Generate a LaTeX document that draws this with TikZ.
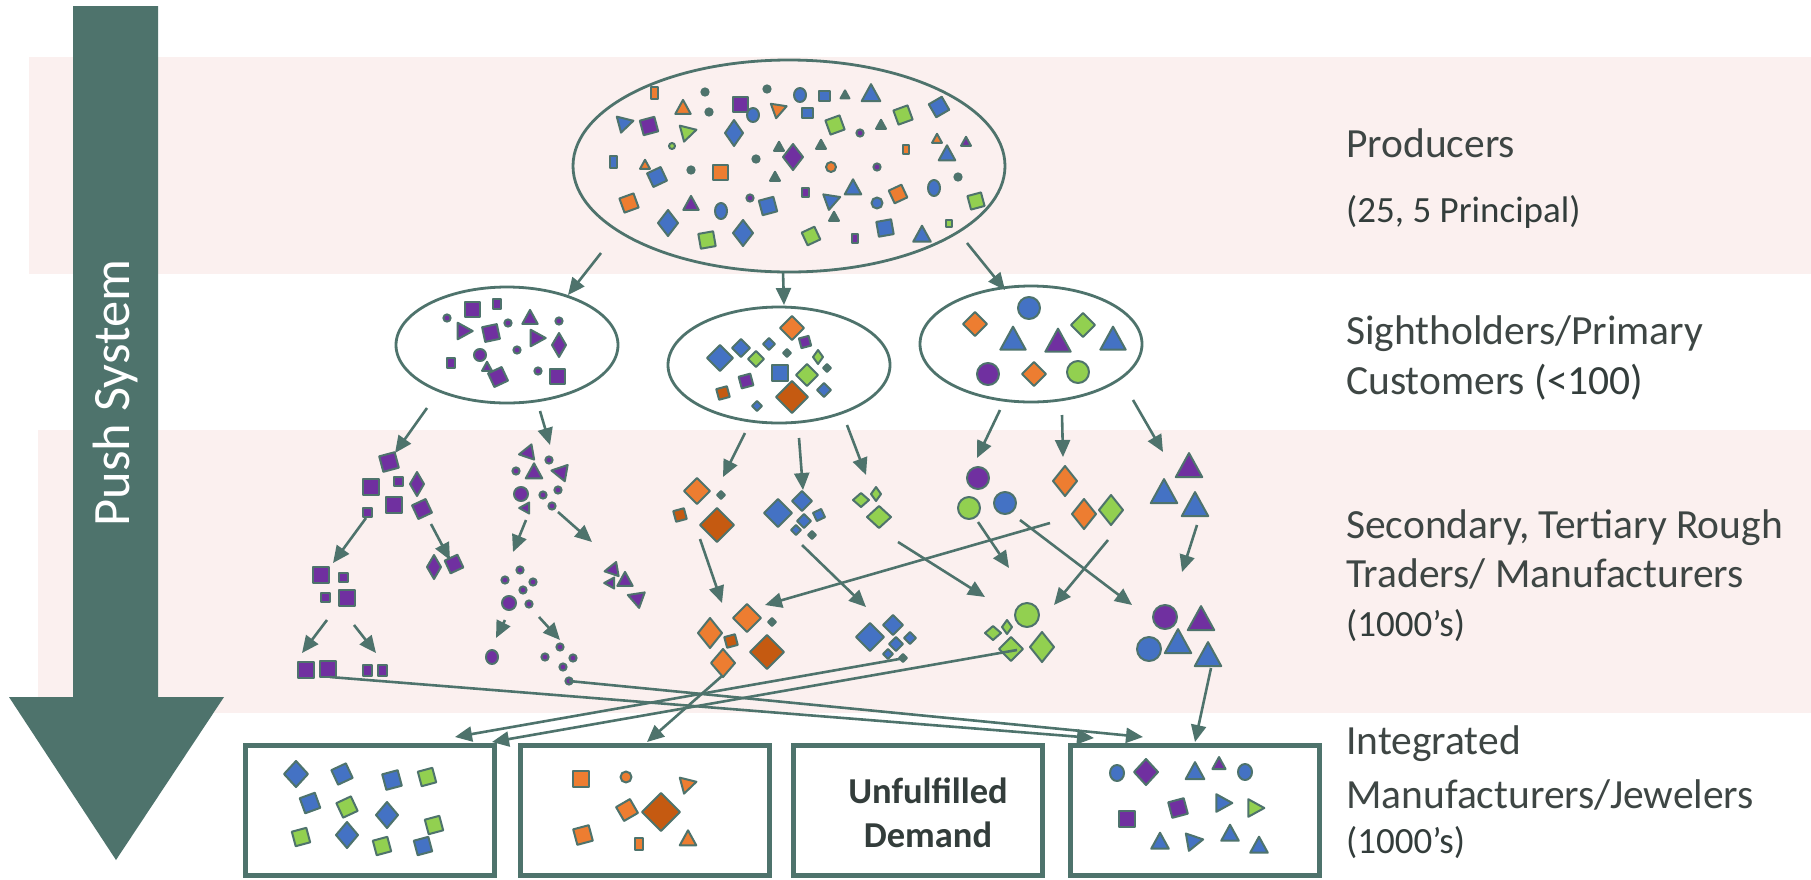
\documentclass[tikz,border=0pt]{standalone}
\usepackage{fontspec}
\setmainfont{Carlito}
\usetikzlibrary{arrows.meta,shapes.geometric}
\definecolor{tl}{HTML}{4E736C}
\definecolor{bl}{HTML}{4472C4}
\definecolor{og}{HTML}{ED7D31}
\definecolor{dor}{HTML}{C55A11}
\definecolor{pu}{HTML}{7030A0}
\definecolor{gr}{HTML}{92D050}
\definecolor{bandc}{HTML}{FBF0EF}
\definecolor{txt}{HTML}{333D3B}
\definecolor{txtl}{HTML}{3E4644}
\tikzset{
  shp/.style={draw=tl,line width=2pt,line join=round},
  arr/.style={draw=tl,line width=2.6pt,-{Triangle[length=17pt,width=15pt]}},
  ell/.style={draw=tl,line width=2.8pt,ellipse,inner sep=0pt},
  bx/.style={draw=tl,line width=5pt,fill=white,inner sep=0pt,minimum width=249pt,minimum height=130pt},
  lbl/.style={anchor=base west,inner sep=0pt,text=txtl,font=\fontsize{41.5}{48}\selectfont},
  sml/.style={anchor=base west,inner sep=0pt,text=txt,font=\fontsize{37}{44}\selectfont},
}
\newcommand\Sq[5]{\draw[shp,fill=#5,shift={(#1,#2)},rotate=#4] (-#3/2,-#3/2) rectangle (#3/2,#3/2);}
\newcommand\Rc[5]{\draw[shp,fill=#5] (#1-#3/2,#2-#4/2) rectangle (#1+#3/2,#2+#4/2);}
\newcommand\Di[5]{\draw[shp,fill=#5] (#1-#3,#2)--(#1,#2-#4)--(#1+#3,#2)--(#1,#2+#4)--cycle;}
\newcommand\Ci[4]{\draw[shp,fill=#4] (#1,#2) circle[radius=#3];}
\newcommand\El[5]{\draw[shp,fill=#5] (#1,#2) ellipse[x radius=#3,y radius=#4];}
\newcommand\Tri[5]{\draw[shp,fill=#5,shift={(#1,#2)},rotate=#4] (0,-0.58*#3)--(0.55*#3,0.42*#3)--(-0.55*#3,0.42*#3)--cycle;}
\newcommand\Dt[3]{\draw[shp,fill=#3] (#1,#2) circle[radius=3.6];}
\begin{document}
\begin{tikzpicture}[x=1pt,y=-1pt]
\useasboundingbox (0,0) rectangle (1811,879);
\fill[white] (0,0) rectangle (1811,879);
% bands
\fill[bandc] (29,57) rectangle (1811,274);
\fill[bandc] (38,430) rectangle (1811,713);
% big push arrow
\fill[tl] (73,6) -- (158,6) -- (158,697) -- (224,697) -- (116,860) -- (9,697) -- (73,697) -- cycle;
\node[rotate=90,text=white,font=\fontsize{52.5}{60}\selectfont,inner sep=0pt] (push) at (116,393) {Push System};
% ellipses
\node[ell,minimum width=432pt,minimum height=212pt] (top) at (789,166) {};
\node[ell,minimum width=222pt,minimum height=116pt] (sh1) at (507,345) {};
\node[ell,minimum width=222pt,minimum height=116pt] (sh2) at (779,365) {};
\node[ell,minimum width=222pt,minimum height=116pt] (sh3) at (1031,344) {};
% top ellipse contents
\Rc{654}{93}{7}{12}{og}
\Dt{705}{92}{tl}
\Sq{740}{104}{15}{0}{pu}
\Dt{767}{89}{tl}
\El{800}{95}{6}{7}{bl}
\Rc{824}{96}{11}{10}{bl}
\Tri{845}{95}{8}{0}{tl}
\Tri{871}{94}{17}{0}{bl}
\Tri{683}{108}{14}{0}{og}
\Dt{709}{112}{tl}
\Tri{625}{123}{15}{-75}{bl}
\Sq{649}{126}{15}{15}{pu}
\Tri{688}{132}{15}{-75}{gr}
\El{753}{115}{6}{7}{bl}
\Tri{779}{109}{14}{-70}{og}
\Rc{807}{113}{11}{10}{bl}
\Di{734}{133}{9}{13}{bl}
\Sq{835}{125}{15}{20}{gr}
\Tri{881}{125}{9}{0}{tl}
\Sq{903}{115}{15}{20}{gr}
\Sq{939}{107}{15}{30}{bl}
\Ci{672}{146}{3}{gr}
\Tri{779}{147}{9}{0}{tl}
\Tri{821}{145}{9}{0}{tl}
\Di{793}{157}{10}{13}{pu}
\Dt{860}{133}{pu}
\Rc{906}{149}{6}{9}{og}
\Tri{937}{139}{9}{0}{og}
\Tri{966}{142}{9}{0}{pu}
\Tri{947}{154}{15}{0}{bl}
\Rc{613}{162}{7}{12}{bl}
\Tri{645}{165}{9}{0}{og}
\Sq{657}{177}{15}{25}{bl}
\Dt{691}{170}{tl}
\Sq{720}{172}{15}{0}{og}
\Dt{756}{159}{tl}
\Tri{775}{177}{9}{0}{tl}
\Ci{831}{167}{5}{og}
\Dt{877}{167}{pu}
\Dt{958}{177}{tl}
\Sq{629}{203}{15}{20}{og}
\Tri{691}{204}{14}{0}{pu}
\El{721}{211}{6}{8}{bl}
\Dt{750}{198}{pu}
\Sq{768}{206}{15}{15}{bl}
\Rc{805}{192}{7}{9}{pu}
\Tri{832}{200}{15}{-70}{bl}
\Tri{853}{188}{15}{0}{bl}
\Ci{877}{203}{5.5}{bl}
\Sq{898}{194}{14}{25}{og}
\El{934}{188}{6}{8}{bl}
\Sq{976}{201}{14}{15}{gr}
\Di{668}{223}{10}{13}{bl}
\Sq{707}{240}{15}{10}{gr}
\Di{743}{233}{10}{13}{bl}
\Tri{834}{217}{9}{0}{tl}
\Sq{811}{236}{14}{25}{gr}
\Rc{855}{238}{6}{9}{pu}
\Sq{885}{228}{15}{10}{bl}
\Rc{949}{223}{6}{7}{gr}
\Tri{922}{235}{16}{0}{bl}
% sightholder 1
\Dt{447}{318}{pu}
\Sq{472}{309}{15}{0}{pu}
\Rc{497}{304}{8}{10}{pu}
\Tri{464}{331}{15}{-90}{pu}
\Sq{491}{333}{15}{12}{pu}
\Dt{508}{323}{pu}
\Tri{530}{318}{14}{0}{pu}
\Dt{559}{321}{pu}
\Tri{537}{338}{15}{-90}{pu}
\Di{559}{345}{7}{12}{pu}
\Dt{517}{350}{pu}
\Rc{451}{363}{8}{10}{pu}
\Ci{480}{355}{6}{pu}
\Tri{487}{367}{9}{0}{pu}
\Sq{498}{377}{15}{25}{pu}
\Dt{538}{371}{pu}
\Sq{557}{376}{15}{0}{pu}
% sightholder 2
\Di{792}{328}{12}{12}{og}
\Sq{805}{342}{10}{15}{pu}
\Di{741}{348}{9}{9}{bl}
\Di{769}{344}{6}{6}{bl}
\Di{720}{358}{13}{13}{bl}
\Di{756}{359}{8}{8}{gr}
\Di{787}{353}{4}{4}{tl}
\Di{818}{357}{5}{7}{gr}
\Sq{780}{373}{16}{0}{bl}
\Di{807}{375}{11}{11}{gr}
\Di{827}{368}{4}{4}{tl}
\Sq{746}{381}{12}{15}{pu}
\Sq{723}{393}{11}{15}{dor}
\Di{792}{397}{16}{16}{dor}
\Di{824}{390}{7}{7}{bl}
\Di{757}{406}{5}{5}{bl}
% sightholder 3
\Ci{1029}{308}{11}{bl}
\Di{975}{324}{12}{12}{og}
\Di{1083}{325}{12}{12}{gr}
\Tri{1013}{340}{23}{0}{bl}
\Tri{1058}{342}{23}{0}{pu}
\Tri{1113}{340}{23}{0}{bl}
\Ci{988}{374}{11}{pu}
\Di{1034}{374}{12}{12}{og}
\Ci{1078}{372}{11}{gr}
% level 2: left purple squares
\Sq{389}{462}{16}{15}{pu}
\Sq{371}{487}{16}{0}{pu}
\Sq{398}{481}{9}{0}{pu}
\Di{417}{484}{7}{12}{pu}
\Sq{394}{505}{16}{0}{pu}
\Sq{422}{509}{15}{25}{pu}
\Sq{367}{512}{9}{0}{pu}
\Di{434}{567}{7}{12}{pu}
\Sq{454}{564}{14}{25}{pu}
\Sq{321}{575}{16}{0}{pu}
\Sq{343}{577}{9}{0}{pu}
\Sq{325}{597}{9}{0}{pu}
\Sq{347}{598}{16}{0}{pu}
\Sq{306}{670}{16}{0}{pu}
\Sq{328}{669}{16}{0}{pu}
\Rc{367}{670}{9}{11}{pu}
\Rc{382}{670}{9}{11}{pu}
% level 2: dots and triangles
\Tri{527}{453}{14}{100}{pu}
\Dt{549}{460}{pu}
\Dt{516}{471}{pu}
\Tri{534}{472}{15}{0}{pu}
\Tri{560}{472}{15}{80}{pu}
\Ci{521}{494}{7}{pu}
\Dt{543}{495}{pu}
\Dt{558}{490}{pu}
\Dt{552}{506}{pu}
\Tri{525}{508}{10}{90}{pu}
\Tri{612}{570}{13}{100}{pu}
\Tri{625}{580}{14}{0}{pu}
\Tri{610}{583}{10}{90}{pu}
\Tri{636}{598}{15}{70}{pu}
\Dt{520}{570}{pu}
\Dt{505}{580}{pu}
\Dt{533}{582}{pu}
\Dt{523}{590}{pu}
\Ci{509}{603}{7}{pu}
\Dt{529}{604}{pu}
\El{492}{657}{6}{7}{pu}
\Dt{560}{647}{pu}
\Dt{545}{657}{pu}
\Dt{573}{658}{pu}
\Dt{563}{667}{pu}
\Dt{569}{681}{pu}
% level 2: middle
\Di{697}{491}{13}{13}{og}
\Di{721}{495}{4}{4}{tl}
\Sq{680}{515}{11}{15}{dor}
\Di{717}{525}{17}{17}{dor}
\Di{778}{513}{14}{14}{bl}
\Di{802}{501}{10}{10}{bl}
\Di{804}{521}{7}{7}{bl}
\Sq{819}{515}{9}{25}{bl}
\Di{796}{530}{5}{5}{bl}
\Di{812}{535}{4}{4}{tl}
\Di{861}{500}{8}{7}{gr}
\Di{876}{494}{5}{7}{gr}
\Di{879}{517}{12}{11}{gr}
% level 2: right
\Ci{978}{478}{11}{pu}
\Ci{969}{508}{11}{gr}
\Ci{1005}{503}{11}{bl}
\Di{1065}{481}{12}{15}{og}
\Di{1084}{514}{12}{15}{og}
\Di{1111}{510}{12}{15}{gr}
\Tri{1189}{467}{24}{0}{pu}
\Tri{1164}{493}{24}{0}{bl}
\Tri{1195}{506}{24}{0}{bl}
% level 3
\Di{710}{633}{12}{15}{og}
\Di{747}{618}{14}{14}{og}
\Di{772}{622}{4}{4}{tl}
\Sq{731}{641}{11}{15}{dor}
\Di{723}{663}{12}{14}{og}
\Di{767}{652}{17}{17}{dor}
\Di{870}{637}{14}{14}{bl}
\Di{893}{625}{10}{10}{bl}
\Di{896}{644}{7}{7}{bl}
\Di{910}{638}{6}{6}{bl}
\Di{888}{654}{5}{5}{bl}
\Di{903}{658}{4}{4}{tl}
\Ci{1027}{615}{12}{gr}
\Di{993}{633}{8}{7}{gr}
\Di{1007}{627}{5}{7}{gr}
\Di{1011}{649}{12}{12}{gr}
\Di{1042}{647}{12}{15}{gr}
\Ci{1165}{617}{12}{pu}
\Tri{1201}{620}{24}{0}{pu}
\Ci{1149}{649}{12}{bl}
\Tri{1178}{643}{24}{0}{bl}
\Tri{1208}{656}{24}{0}{bl}
% connector coordinates
\coordinate (c1a) at (601,253); \coordinate (c1b) at (568,295);
\coordinate (c2a) at (783,272); \coordinate (c2b) at (784,305);
\coordinate (c3a) at (967,243); \coordinate (c3b) at (1005,290);
\coordinate (d1a) at (427,408); \coordinate (d1b) at (395,453);
\coordinate (d2a) at (540,411); \coordinate (d2b) at (550,445);
\coordinate (d3a) at (745,433); \coordinate (d3b) at (723,477);
\coordinate (d4a) at (799,438); \coordinate (d4b) at (803,490);
\coordinate (d5a) at (847,425); \coordinate (d5b) at (866,475);
\coordinate (d6a) at (1000,410); \coordinate (d6b) at (977,458);
\coordinate (d7a) at (1062,415); \coordinate (d7b) at (1063,457);
\coordinate (d8a) at (1133,400); \coordinate (d8b) at (1163,452);
\coordinate (e1a) at (366,518); \coordinate (e1b) at (333,563);
\coordinate (e2a) at (431,524); \coordinate (e2b) at (450,560);
\coordinate (e3a) at (327,620); \coordinate (e3b) at (302,653);
\coordinate (e4a) at (354,625); \coordinate (e4b) at (376,653);
\coordinate (e5a) at (526,520); \coordinate (e5b) at (513,552);
\coordinate (e6a) at (558,512); \coordinate (e6b) at (592,542);
\coordinate (e7a) at (505,620); \coordinate (e7b) at (496,638);
\coordinate (e8a) at (539,617); \coordinate (e8b) at (560,640);
\coordinate (f1a) at (700,539); \coordinate (f1b) at (722,603);
\coordinate (f2a) at (802,545); \coordinate (f2b) at (866,607);
\coordinate (f3a) at (898,542); \coordinate (f3b) at (985,597);
\coordinate (f4a) at (1050,523); \coordinate (f4b) at (765,605);
\coordinate (f5a) at (978,522); \coordinate (f5b) at (1009,568);
\coordinate (f6a) at (1020,520); \coordinate (f6b) at (1132,605);
\coordinate (f7a) at (1108,540); \coordinate (f7b) at (1054,605);
\coordinate (f8a) at (1197,525); \coordinate (f8b) at (1182,572);
\foreach \p in {c1,c2,c3,d1,d2,d3,d4,d5,d6,d7,d8,e1,e2,e3,e4,e5,e6,e7,e8,f1,f2,f3,f4,f5,f6,f7,f8}
  \draw[arr] (\p a) -- (\p b);
% bottom boxes
\node[bx] (b1) at (369.5,810) {};
\node[bx] (b2) at (644.5,810) {};
\node[bx] (b3) at (918,810) {};
\node[bx] (b4) at (1195,810) {};
\node[text=txt,font=\bfseries\fontsize{36.5}{44}\selectfont,align=center,inner sep=0pt] (unf) at (928,813) {Unfulfilled\\Demand};
% box 1
\Di{296}{774}{12}{13}{bl}
\Sq{342}{774}{16}{25}{bl}
\Sq{392}{780}{16}{15}{bl}
\Sq{427}{777}{15}{15}{gr}
\Sq{310}{803}{16}{20}{bl}
\Sq{347}{807}{16}{25}{gr}
\Di{387}{815}{11}{13}{bl}
\Sq{434}{825}{15}{15}{gr}
\Sq{301}{837}{15}{15}{gr}
\Di{347}{835}{11}{13}{bl}
\Sq{382}{846}{15}{15}{gr}
\Sq{423}{846}{15}{15}{bl}
% box 2
\Sq{581}{779}{16}{0}{og}
\Ci{626}{777}{5.5}{og}
\Tri{688}{784}{15}{-75}{og}
\Sq{627}{810}{16}{30}{og}
\Di{661}{812}{19}{19}{dor}
\Sq{583}{835}{16}{15}{og}
\Rc{639}{844}{8}{12}{og}
\Tri{688}{839}{15}{0}{og}
% box 4
\El{1117}{773}{7}{8}{bl}
\Di{1146}{772}{12}{13}{pu}
\Tri{1195}{772}{17}{0}{bl}
\Tri{1219}{764}{12}{0}{pu}
\El{1245}{772}{7}{8}{bl}
\Sq{1127}{819}{16}{0}{pu}
\Sq{1178}{808}{16}{15}{pu}
\Tri{1223}{803}{16}{-90}{bl}
\Tri{1255}{808}{16}{-90}{gr}
\Tri{1160}{842}{16}{0}{bl}
\Tri{1194}{841}{16}{-80}{bl}
\Tri{1230}{834}{16}{0}{bl}
\Tri{1259}{846}{16}{0}{bl}
% long connectors to boxes
\coordinate (g1a) at (330,677); \coordinate (g1b) at (1094,738);
\coordinate (g2a) at (569,681); \coordinate (g2b) at (1143,737);
\coordinate (g3a) at (905,658); \coordinate (g3b) at (455,737);
\coordinate (g4a) at (1017,650); \coordinate (g4b) at (492,742);
\coordinate (g5a) at (722,676); \coordinate (g5b) at (647,742);
\coordinate (g6a) at (1211,668); \coordinate (g6b) at (1195,742);
\foreach \p in {g1,g2,g3,g4,g5,g6}
  \draw[arr] (\p a) -- (\p b);
% labels
\node[lbl] (l1) at (1346,157) {Producers};
\node[sml] (l2) at (1346,222) {(25, 5 Principal)};
\node[lbl] (l3) at (1346,344) {Sightholders/Primary};
\node[lbl] (l4) at (1346,394) {Customers \textcolor{txt}{(<100)}};
\node[lbl] (l5) at (1346,538) {Secondary, Tertiary Rough};
\node[lbl] (l6) at (1346,587) {Traders/ Manufacturers};
\node[sml] (l7) at (1346,636) {(1000’s)};
\node[lbl] (l8) at (1346,754) {Integrated};
\node[lbl] (l9) at (1346,808) {Manufacturers/Jewelers};
\node[sml] (l10) at (1346,853) {(1000’s)};
\end{tikzpicture}
\end{document}
